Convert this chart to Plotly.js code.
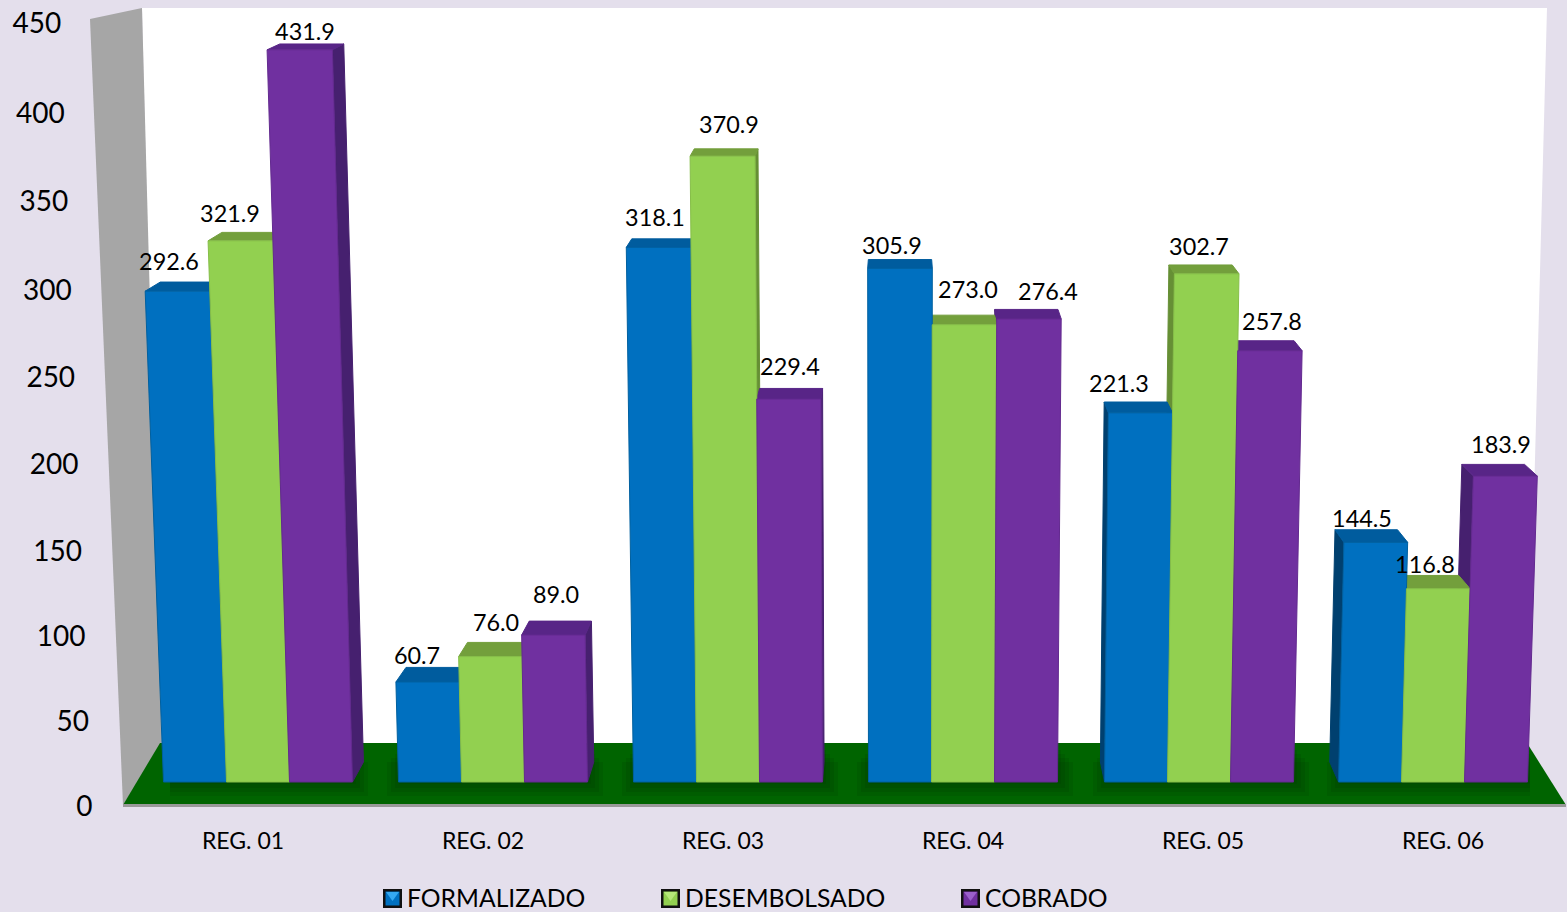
<!DOCTYPE html>
<html><head><meta charset="utf-8">
<script src="https://cdn.plot.ly/plotly-3.0.1.min.js"></script>
<style>html,body{margin:0;padding:0;background:#E4DFEC}</style></head>
<body><div id="chart" style="width:1567px;height:912px"></div>
<script>
// ---- data ----
const categories = ["REG. 01","REG. 02","REG. 03","REG. 04","REG. 05","REG. 06"];
const formalizado = [292.6,60.7,318.1,305.9,221.3,144.5];
const desembolsado = [321.9,76.0,370.9,273.0,302.7,116.8];
const cobrado = [431.9,89.0,229.4,276.4,257.8,183.9];
const seriesNames = ["FORMALIZADO","DESEMBOLSADO","COBRADO"];
const yTicks = [0,50,100,150,200,250,300,350,400,450];

// ---- label placement and colours (style, not data) ----
const labelPxX = [[169,417,655,892,1119,1362],[230,496,729,968,1199,1425],[305,556,790,1048,1272,1501]];
const labelPxY = [[264,658,220,248,386,521],[216,625,127,292,249,567],[34,597,369,294,324,447]];
const faceCol = ["#0070C0","#92D050","#7030A0"];
const capCol  = ["#005C9E","#739F3C","#582587"];
const sideCol = ["#00406F","#668F35","#46206F"];
const edgeCol = ["#00609F","#86BE49","#632A8F"];
const legendPx = [383,661,961];

const W=1567,H=912,PB=825;
const values=[formalizado,desembolsado,cobrado];
const xu=px=>(px-243)/240, xp=px=>px/W, yp=py=>(PB-py)/PB;
const bottomY=782, s2=1.64, s1=1.68, axisY=805;
const yu2=py=>(bottomY-py)/s2;
const groupPx=[258,493,728,963,1199,1433];
const groupC=groupPx.map(xu);
const barW=63/240, vx=xu(900), K=8.5e-5, D=0.02;
const persp=v=>v*(1+7.8e-5*v);
const lean=(x,v)=>(x-vx)*K*v;
const back=x=>-D*(x-vx);

const traces=[];
const faces=[],caps=[],sides=[],bars=[];
values.forEach((vals,si)=>{
  const f={x:[],y:[]},c={x:[],y:[]},sd={x:[],y:[]},bx=[];
  vals.forEach((v,i)=>{
    const L=groupC[i]+(si-1)*barW-barW/2, R=L+barW;
    const Lt=L+lean(L,v), Rt=R+lean(R,v), t=persp(v);
    const dt=(16-0.0235*v)/s2, d0=20/s2;
    f.x.push(L,Lt,Rt,R,L,null); f.y.push(0,t,t,0,0,null);
    c.x.push(Lt,Rt,Rt+back(Rt),Lt+back(Lt),Lt,null); c.y.push(t,t,t+dt,t+dt,t,null);
    if(R<vx){ sd.x.push(R,Rt,Rt+back(Rt),R+back(R),R,null); sd.y.push(0,t,t+dt,d0,0,null); }
    else if(L>vx){ sd.x.push(L,Lt,Lt+back(Lt),L+back(L),L,null); sd.y.push(0,t,t+dt,d0,0,null); }
    bx.push(Math.max(L,Lt)/2+Math.min(R,Rt)/2);
  });
  faces.push(f);caps.push(c);sides.push(sd);bars.push(bx);
});
const poly=(p,col,line,name)=>({type:"scatter",mode:"lines",x:p.x,y:p.y,yaxis:"y2",fill:"toself",fillcolor:col,
  line:{color:line,width:1},hoverinfo:"skip",showlegend:false,name:name});
values.forEach((vals,si)=>traces.push({type:"bar",name:seriesNames[si],x:bars[si],y:vals,
  width:34/240,yaxis:"y2",marker:{color:faceCol[si]},showlegend:false,
  hovertemplate:"%{y}<extra>"+seriesNames[si]+"</extra>"}));
values.forEach((_,si)=>traces.push(poly(sides[si],sideCol[si],sideCol[si],seriesNames[si]+" side")));
values.forEach((_,si)=>traces.push(poly(caps[si],capCol[si],capCol[si],seriesNames[si]+" top")));
values.forEach((_,si)=>traces.push(poly(faces[si],faceCol[si],edgeCol[si],seriesNames[si]+" front")));
// value labels
values.forEach((vals,si)=>traces.push({type:"scatter",mode:"text",yaxis:"y2",x:labelPxX[si].map(xu),y:labelPxY[si].map(yu2),
  text:vals.map(v=>v.toFixed(1)),textposition:"middle center",textfont:{family:"Lato",size:23.4,color:"#000"},
  hoverinfo:"skip",showlegend:false,cliponaxis:false}));
// value-axis labels follow the slanted side wall
traces.push({type:"scatter",mode:"text",x:yTicks.map(v=>xu(92.5-v*0.0695)),y:yTicks.map(v=>persp(v)-3.5/s1),text:yTicks.map(String),
  textposition:"middle left",textfont:{family:"Lato",size:28,color:"#000"},hoverinfo:"skip",showlegend:false,cliponaxis:false});

const path=pts=>"M"+pts.map(p=>xp(p[0])+","+yp(p[1])).join("L")+"Z";
const shape=(pts,fill,layer)=>({type:"path",xref:"paper",yref:"paper",path:path(pts),fillcolor:fill,line:{width:0},layer:layer||"below"});
const shapes=[
  shape([[142,8],[1547,8],[1527,760],[160,760]],"#FFFFFF"),
  shape([[90,19],[142,8],[162,745],[123,805]],"#A6A6A6"),
  shape([[160,743],[1527,743],[1566,805],[123,805]],"#006400"),
];
// soft floor shading around the bar groups
groupPx.forEach(c=>{
  [14,10,6,2].forEach(d=>{
    const l=Math.max(c-92-d,170), r=Math.min(c+96+d,1530);
    shapes.push(shape([[l,748+d],[r,748+d],[r,782+d],[l,782+d]],"rgba(0,35,0,0.11)"));
  });
});
shapes.push(shape([[123,804],[1566,804],[1566,807],[123,807]],"#999999"));
const annotations=[];
seriesNames.forEach((n,i)=>{
  const a=legendPx[i], y0=889,y1=908;
  shapes.push(shape([[a,y0],[a+19,y0],[a+19,y1],[a,y1]],"#111111","above"));
  shapes.push(shape([[a+2.5,y0+2.5],[a+16.5,y0+2.5],[a+16.5,y1-2.5],[a+2.5,y1-2.5]],faceCol[i],"above"));
  shapes.push(shape([[a+3,y0+3],[a+16,y0+3],[a+9.5,y1-7]],["#35A8F0","#B5E878","#9A5FCB"][i],"above"));
  annotations.push({xref:"paper",yref:"paper",x:xp(a+22),y:yp(897.5),xanchor:"left",yanchor:"middle",showarrow:false,
    text:n,font:{family:"Lato",size:24.7,color:"#000"}});
});

const layout={width:W,height:H,margin:{l:0,r:0,t:0,b:H-PB,pad:0},paper_bgcolor:"#E4DFEC",plot_bgcolor:"rgba(0,0,0,0)",
  showlegend:false,barmode:"overlay",shapes,annotations,
  xaxis:{range:[xu(0),xu(W)],tickmode:"array",tickvals:categories.map((_,i)=>i),ticktext:categories,
    showgrid:false,zeroline:false,showline:false,ticks:"",tickfont:{family:"Lato",size:23,color:"#000"}},
  yaxis:{range:[-(PB-axisY)/s1,axisY/s1],showgrid:false,zeroline:false,showline:false,showticklabels:false,ticks:""},
  yaxis2:{range:[-(PB-bottomY)/s2,bottomY/s2],overlaying:"y",visible:false}
};
Plotly.newPlot("chart",traces,layout,{displayModeBar:false,responsive:false});
</script></body></html>
